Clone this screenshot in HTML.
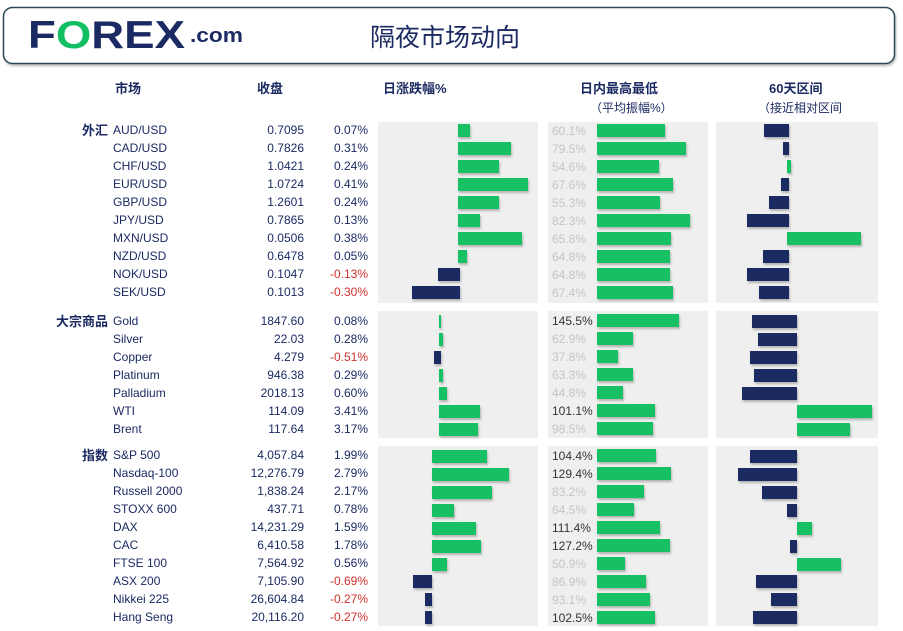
<!DOCTYPE html>
<html><head><meta charset="utf-8"><style>
body{margin:0;background:#fff;}
svg{display:block;font-family:"Liberation Sans","Noto Sans CJK SC",sans-serif;}
.t{font-size:12px;fill:#1b2a62}
.r{text-anchor:end}
.neg{fill:#d0312d}
.h{font-size:13px;font-weight:bold;fill:#1b2a62}
.s{font-size:12px;fill:#1b2a62}
.sec{font-size:13px;font-weight:bold;fill:#1b2a62;text-anchor:end}
.g{fill:#12c063}.n{fill:#1b2a62}
.lg{font-size:12px;fill:#c4c4c4}.ld{font-size:12px;fill:#333}
</style></head><body>
<svg width="903" height="631" viewBox="0 0 903 631">
<defs><filter id="sh" x="-10%" y="-20%" width="130%" height="170%"><feDropShadow dx="1" dy="2" stdDeviation="1" flood-color="#000" flood-opacity="0.25"/></filter></defs>
<rect x="3.5" y="7.5" width="891" height="56" rx="9" fill="#fff" stroke="#2b4a55" stroke-width="1.5" filter="url(#sh)"/>
<text x="28" y="48" font-size="39" font-weight="bold" fill="#1b2a62" textLength="157" lengthAdjust="spacingAndGlyphs">F<tspan fill="#12c063">O</tspan>REX</text>
<text x="190" y="42" font-size="20" font-weight="bold" fill="#1b2a62" textLength="53" lengthAdjust="spacingAndGlyphs">.com</text>
<text x="370" y="46" font-size="25" fill="#1b2a62">隔夜市场动向</text>
<text class="h" x="115" y="93">市场</text><text class="h" x="257" y="93">收盘</text>
<text class="h" x="383" y="93">日涨跌幅%</text>
<text class="h" x="580" y="93" font-size="15">日内最高最低</text><text class="s" x="590" y="112">（平均振幅%）</text>
<text class="h" x="769" y="93">60天区间</text><text class="s" x="758" y="112">（接近相对区间</text>
<rect x="378" y="122" width="160" height="181" fill="#efefef"/><rect x="548" y="122" width="160" height="181" fill="#efefef"/><rect x="716" y="122" width="162" height="181" fill="#efefef"/>
<rect x="378" y="311" width="160" height="127" fill="#efefef"/><rect x="548" y="311" width="160" height="127" fill="#efefef"/><rect x="716" y="311" width="162" height="127" fill="#efefef"/>
<rect x="378" y="446" width="160" height="180" fill="#efefef"/><rect x="548" y="446" width="160" height="180" fill="#efefef"/><rect x="716" y="446" width="162" height="180" fill="#efefef"/>
<text class="sec" x="108" y="135">外汇</text><text class="sec" x="108" y="326">大宗商品</text><text class="sec" x="108" y="460">指数</text>
<g class="t">
<text x="113" y="134">AUD/USD</text><text class="r" x="304" y="134">0.7095</text><text class="r" x="368" y="134">0.07%</text>
<text x="113" y="152">CAD/USD</text><text class="r" x="304" y="152">0.7826</text><text class="r" x="368" y="152">0.31%</text>
<text x="113" y="170">CHF/USD</text><text class="r" x="304" y="170">1.0421</text><text class="r" x="368" y="170">0.24%</text>
<text x="113" y="188">EUR/USD</text><text class="r" x="304" y="188">1.0724</text><text class="r" x="368" y="188">0.41%</text>
<text x="113" y="206">GBP/USD</text><text class="r" x="304" y="206">1.2601</text><text class="r" x="368" y="206">0.24%</text>
<text x="113" y="224">JPY/USD</text><text class="r" x="304" y="224">0.7865</text><text class="r" x="368" y="224">0.13%</text>
<text x="113" y="242">MXN/USD</text><text class="r" x="304" y="242">0.0506</text><text class="r" x="368" y="242">0.38%</text>
<text x="113" y="260">NZD/USD</text><text class="r" x="304" y="260">0.6478</text><text class="r" x="368" y="260">0.05%</text>
<text x="113" y="278">NOK/USD</text><text class="r" x="304" y="278">0.1047</text><text class="r neg" x="368" y="278">-0.13%</text>
<text x="113" y="296">SEK/USD</text><text class="r" x="304" y="296">0.1013</text><text class="r neg" x="368" y="296">-0.30%</text>
<text x="113" y="325">Gold</text><text class="r" x="304" y="325">1847.60</text><text class="r" x="368" y="325">0.08%</text>
<text x="113" y="343">Silver</text><text class="r" x="304" y="343">22.03</text><text class="r" x="368" y="343">0.28%</text>
<text x="113" y="361">Copper</text><text class="r" x="304" y="361">4.279</text><text class="r neg" x="368" y="361">-0.51%</text>
<text x="113" y="379">Platinum</text><text class="r" x="304" y="379">946.38</text><text class="r" x="368" y="379">0.29%</text>
<text x="113" y="397">Palladium</text><text class="r" x="304" y="397">2018.13</text><text class="r" x="368" y="397">0.60%</text>
<text x="113" y="415">WTI</text><text class="r" x="304" y="415">114.09</text><text class="r" x="368" y="415">3.41%</text>
<text x="113" y="433">Brent</text><text class="r" x="304" y="433">117.64</text><text class="r" x="368" y="433">3.17%</text>
<text x="113" y="459">S&amp;P 500</text><text class="r" x="304" y="459">4,057.84</text><text class="r" x="368" y="459">1.99%</text>
<text x="113" y="477">Nasdaq-100</text><text class="r" x="304" y="477">12,276.79</text><text class="r" x="368" y="477">2.79%</text>
<text x="113" y="495">Russell 2000</text><text class="r" x="304" y="495">1,838.24</text><text class="r" x="368" y="495">2.17%</text>
<text x="113" y="513">STOXX 600</text><text class="r" x="304" y="513">437.71</text><text class="r" x="368" y="513">0.78%</text>
<text x="113" y="531">DAX</text><text class="r" x="304" y="531">14,231.29</text><text class="r" x="368" y="531">1.59%</text>
<text x="113" y="549">CAC</text><text class="r" x="304" y="549">6,410.58</text><text class="r" x="368" y="549">1.78%</text>
<text x="113" y="567">FTSE 100</text><text class="r" x="304" y="567">7,564.92</text><text class="r" x="368" y="567">0.56%</text>
<text x="113" y="585">ASX 200</text><text class="r" x="304" y="585">7,105.90</text><text class="r neg" x="368" y="585">-0.69%</text>
<text x="113" y="603">Nikkei 225</text><text class="r" x="304" y="603">26,604.84</text><text class="r neg" x="368" y="603">-0.27%</text>
<text x="113" y="621">Hang Seng</text><text class="r" x="304" y="621">20,116.20</text><text class="r neg" x="368" y="621">-0.27%</text>
</g>
<g filter="url(#sh)">
<rect class="g" x="458" y="124" width="12" height="13"/><rect class="g" x="458" y="142" width="53" height="13"/><rect class="g" x="458" y="160" width="41" height="13"/><rect class="g" x="458" y="178" width="70" height="13"/><rect class="g" x="458" y="196" width="41" height="13"/><rect class="g" x="458" y="214" width="22" height="13"/><rect class="g" x="458" y="232" width="64" height="13"/><rect class="g" x="458" y="250" width="9" height="13"/><rect class="n" x="438" y="268" width="22" height="13"/><rect class="n" x="412" y="286" width="48" height="13"/>
<rect class="g" x="597" y="124" width="68" height="13"/><rect class="g" x="597" y="142" width="89" height="13"/><rect class="g" x="597" y="160" width="62" height="13"/><rect class="g" x="597" y="178" width="76" height="13"/><rect class="g" x="597" y="196" width="63" height="13"/><rect class="g" x="597" y="214" width="93" height="13"/><rect class="g" x="597" y="232" width="74" height="13"/><rect class="g" x="597" y="250" width="73" height="13"/><rect class="g" x="597" y="268" width="73" height="13"/><rect class="g" x="597" y="286" width="76" height="13"/>
<rect class="n" x="764" y="124" width="25" height="13"/><rect class="n" x="783" y="142" width="6" height="13"/><rect class="g" x="787" y="160" width="4" height="13"/><rect class="n" x="781" y="178" width="8" height="13"/><rect class="n" x="769" y="196" width="20" height="13"/><rect class="n" x="747" y="214" width="42" height="13"/><rect class="g" x="787" y="232" width="74" height="13"/><rect class="n" x="763" y="250" width="26" height="13"/><rect class="n" x="747" y="268" width="42" height="13"/><rect class="n" x="759" y="286" width="30" height="13"/>
<rect class="g" x="439" y="315" width="2" height="13"/><rect class="g" x="439" y="333" width="4" height="13"/><rect class="n" x="434" y="351" width="7" height="13"/><rect class="g" x="439" y="369" width="4" height="13"/><rect class="g" x="439" y="387" width="8" height="13"/><rect class="g" x="439" y="405" width="41" height="13"/><rect class="g" x="439" y="423" width="39" height="13"/>
<rect class="g" x="597" y="314" width="82" height="13"/><rect class="g" x="597" y="332" width="36" height="13"/><rect class="g" x="597" y="350" width="21" height="13"/><rect class="g" x="597" y="368" width="36" height="13"/><rect class="g" x="597" y="386" width="26" height="13"/><rect class="g" x="597" y="404" width="58" height="13"/><rect class="g" x="597" y="422" width="56" height="13"/>
<rect class="n" x="752" y="315" width="45" height="13"/><rect class="n" x="758" y="333" width="39" height="13"/><rect class="n" x="750" y="351" width="47" height="13"/><rect class="n" x="754" y="369" width="43" height="13"/><rect class="n" x="742" y="387" width="55" height="13"/><rect class="g" x="797" y="405" width="75" height="13"/><rect class="g" x="797" y="423" width="53" height="13"/>
<rect class="g" x="432" y="450" width="55" height="13"/><rect class="g" x="432" y="468" width="77" height="13"/><rect class="g" x="432" y="486" width="60" height="13"/><rect class="g" x="432" y="504" width="22" height="13"/><rect class="g" x="432" y="522" width="44" height="13"/><rect class="g" x="432" y="540" width="49" height="13"/><rect class="g" x="432" y="558" width="15" height="13"/><rect class="n" x="413" y="575" width="19" height="13"/><rect class="n" x="425" y="593" width="7" height="13"/><rect class="n" x="425" y="611" width="7" height="13"/>
<rect class="g" x="597" y="449" width="59" height="13"/><rect class="g" x="597" y="467" width="74" height="13"/><rect class="g" x="597" y="485" width="47" height="13"/><rect class="g" x="597" y="503" width="37" height="13"/><rect class="g" x="597" y="521" width="63" height="13"/><rect class="g" x="597" y="539" width="73" height="13"/><rect class="g" x="597" y="557" width="28" height="13"/><rect class="g" x="597" y="575" width="49" height="13"/><rect class="g" x="597" y="593" width="53" height="13"/><rect class="g" x="597" y="611" width="58" height="13"/>
<rect class="n" x="750" y="450" width="47" height="13"/><rect class="n" x="738" y="468" width="59" height="13"/><rect class="n" x="762" y="486" width="35" height="13"/><rect class="n" x="787" y="504" width="10" height="13"/><rect class="g" x="797" y="522" width="15" height="13"/><rect class="n" x="790" y="540" width="7" height="13"/><rect class="g" x="797" y="558" width="44" height="13"/><rect class="n" x="756" y="575" width="41" height="13"/><rect class="n" x="771" y="593" width="26" height="13"/><rect class="n" x="753" y="611" width="44" height="13"/>
</g>
<g>
<text class="lg" x="552" y="135">60.1%</text><text class="lg" x="552" y="153">79.5%</text><text class="lg" x="552" y="171">54.6%</text><text class="lg" x="552" y="189">67.6%</text><text class="lg" x="552" y="207">55.3%</text><text class="lg" x="552" y="225">82.3%</text><text class="lg" x="552" y="243">65.8%</text><text class="lg" x="552" y="261">64.8%</text><text class="lg" x="552" y="279">64.8%</text><text class="lg" x="552" y="297">67.4%</text>
<text class="ld" x="552" y="325">145.5%</text><text class="lg" x="552" y="343">62.9%</text><text class="lg" x="552" y="361">37.8%</text><text class="lg" x="552" y="379">63.3%</text><text class="lg" x="552" y="397">44.8%</text><text class="ld" x="552" y="415">101.1%</text><text class="lg" x="552" y="433">98.5%</text>
<text class="ld" x="552" y="460">104.4%</text><text class="ld" x="552" y="478">129.4%</text><text class="lg" x="552" y="496">83.2%</text><text class="lg" x="552" y="514">64.5%</text><text class="ld" x="552" y="532">111.4%</text><text class="ld" x="552" y="550">127.2%</text><text class="lg" x="552" y="568">50.9%</text><text class="lg" x="552" y="586">86.9%</text><text class="lg" x="552" y="604">93.1%</text><text class="ld" x="552" y="622">102.5%</text>
</g>
</svg>
</body></html>
